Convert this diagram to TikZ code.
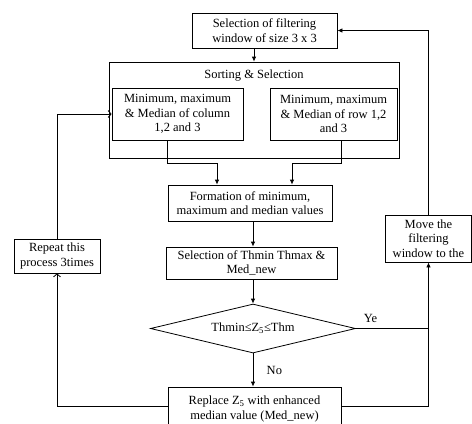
\documentclass[tikz,border=0pt]{standalone}
\usepackage{fontspec}
\setmainfont{Liberation Serif}
\usetikzlibrary{positioning, arrows.meta, calc, shapes.geometric}

\tikzset{
  procbox/.style={draw, align=center, inner sep=2bp, line width=0.8bp},
  flow/.style={-{Latex[length=5bp,width=4.5bp]}, line width=0.8bp},
  openflow/.style={-{Straight Barb[length=3bp,width=7bp]}, line width=0.8bp},
  plainflow/.style={line width=0.8bp}
}

\begin{document}
\begin{tikzpicture}[x=1bp, y=-1bp, font=\fontsize{12.5bp}{14.5bp}\selectfont]
 \useasboundingbox (0,0) rectangle (472,423);
 % main column
 \node[procbox, minimum width=145bp, minimum height=35bp] (sel) at (264.5,30.5)
 {Selection of filtering\\window of size 3 x 3};
 \node[draw, line width=0.8bp, minimum width=290bp, minimum height=96bp] (sort) at (254,110) {};
 \node[below=4.5bp of sort.north] (sorttitle) {Sorting \& Selection};
 \node[procbox, minimum width=131bp, minimum height=52bp] (colbox) at (177.5,114)
 {Minimum, maximum\\\& Median of column\\1,2 and 3};
 \node[procbox, minimum width=127bp, minimum height=52bp] (rowbox) at (333.5,114)
 {Minimum, maximum\\\& Median of row 1,2\\and 3};
 \node[procbox, minimum width=164bp, minimum height=36bp] (form) at (250,203)
 {Formation of minimum,\\maximum and median values};
 \node[procbox, minimum width=171bp, minimum height=32bp] (thr) at (251.5,263)
 {Selection of Thmin Thmax \&\\Med\_new};
 \node[draw, diamond, aspect=4.2, inner sep=0pt, line width=0.8bp,
 minimum width=205bp, minimum height=49bp] (cond) at (253,328.5)
 {Thmin≤Z\textsubscript{5}≤Thm};
 \node[procbox, minimum width=173bp, minimum height=44bp] (repl) at (254.5,409)
 {Replace Z\textsubscript{5} with enhanced\\median value (Med\_new)};
 % side boxes
 \node[procbox, minimum width=86bp, minimum height=34bp] (rep) at (57,256)
 {Repeat this\\process 3times};
 \node[procbox, minimum width=86bp, minimum height=47bp] (move) at (428.5,238.5)
 {Move the\\filtering\\window to the};
 \coordinate (axis) at (253,0);
 \coordinate (yesjoin) at (cond.east -| move.south);
 % connectors
 \draw[flow] (sel.south -| sort.north) -- (sort.north);
 \draw[flow] ([xshift=-10.5bp]colbox.south) -- ++(0,23) -| ([xshift=-33bp]form.north);
 \draw[flow] ([xshift=7.5bp]rowbox.south) -- ++(0,23) -| ([xshift=42bp]form.north);
 \draw[flow] (form.south -| axis) -- (thr.north -| axis);
 \draw[flow] (thr.south -| axis) -- (cond.north);
 \draw[flow] (cond.south) -- (repl.north -| axis)
 node[pos=0.5, right=10bp] {No};
 \draw[plainflow] (cond.east) -- (yesjoin)
 node[pos=0.2, above=2bp] {Ye};
 \draw[flow] ([yshift=3bp]repl.east) -| (move.south);
 \draw[flow] (move.north) |- (sel.east);
 \draw[openflow] ([yshift=3bp]repl.west) -| (rep.south);
 \draw[openflow] (rep.north) |- (colbox.west);
\end{tikzpicture}
\end{document}
